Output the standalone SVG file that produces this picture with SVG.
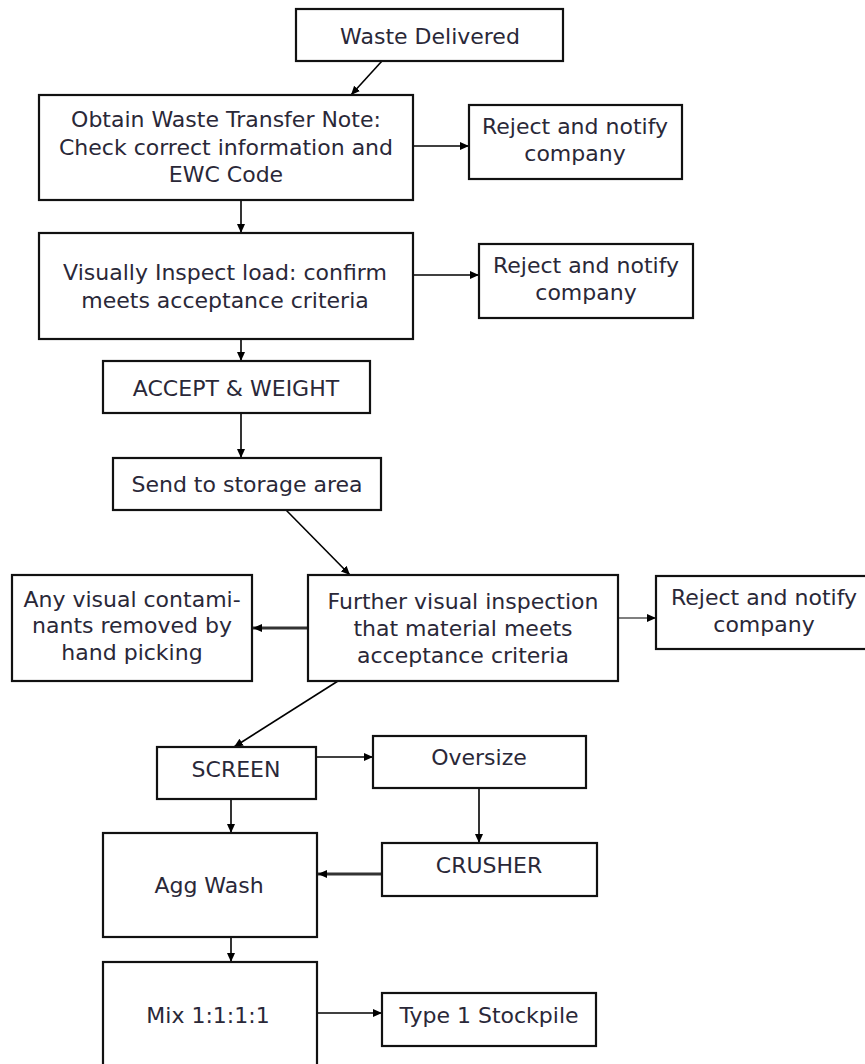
<svg xmlns="http://www.w3.org/2000/svg" width="865" height="1064" viewBox="0 0 865 1064">
<style>
.box{fill:#fff;stroke:#111;stroke-width:2.2}
.t{font-family:"DejaVu Sans",Verdana,sans-serif;font-size:22px;fill:#2a2838;text-anchor:middle}
.c{fill:none;stroke:#000;stroke-width:1.6}
.thick{stroke-width:3;stroke:#333}
.thin{stroke:#555;stroke-width:1.4}
</style>
<defs>
<marker id="ah" markerUnits="userSpaceOnUse" markerWidth="10" markerHeight="10" refX="9" refY="5" orient="auto">
<path d="M0,1 L9,5 L0,9 Z" fill="#000"/>
</marker>
</defs>
<rect width="865" height="1064" fill="#fff"/>
<g id="connectors">
<line class="c" x1="382" y1="61" x2="351" y2="95" marker-end="url(#ah)"/>
<line class="c" x1="413" y1="146" x2="469" y2="146" marker-end="url(#ah)"/>
<line class="c" x1="241" y1="200" x2="241" y2="233" marker-end="url(#ah)"/>
<line class="c" x1="413" y1="275" x2="479" y2="275" marker-end="url(#ah)"/>
<line class="c" x1="241" y1="328" x2="241" y2="361" marker-end="url(#ah)"/>
<line class="c" x1="241" y1="413" x2="241" y2="458" marker-end="url(#ah)"/>
<line class="c" x1="286" y1="510" x2="350" y2="575" marker-end="url(#ah)"/>
<line class="c thick" x1="308" y1="628" x2="253" y2="628" marker-end="url(#ah)"/>
<line class="c thin" x1="618" y1="618" x2="656" y2="618" marker-end="url(#ah)"/>
<line class="c" x1="338" y1="681" x2="234" y2="747" marker-end="url(#ah)"/>
<line class="c" x1="316" y1="757" x2="373" y2="757" marker-end="url(#ah)"/>
<line class="c" x1="479" y1="788" x2="479" y2="843" marker-end="url(#ah)"/>
<line class="c thick" x1="382" y1="874" x2="318" y2="874" marker-end="url(#ah)"/>
<line class="c" x1="231" y1="799" x2="231" y2="833" marker-end="url(#ah)"/>
<line class="c" x1="231" y1="937" x2="231" y2="962" marker-end="url(#ah)"/>
<line class="c" x1="317" y1="1013" x2="382" y2="1013" marker-end="url(#ah)"/>
</g>
<g id="waste"><rect class="box" x="296" y="9" width="267" height="52"/><text class="t" x="430" y="44">Waste Delivered</text></g>
<g id="obtain"><rect class="box" x="39" y="95" width="374" height="105"/><text class="t" x="226" y="127">Obtain Waste Transfer Note:</text><text class="t" x="226" y="155">Check correct information and</text><text class="t" x="226" y="182">EWC Code</text></g>
<g id="reject1"><rect class="box" x="469" y="105" width="213" height="74"/><text class="t" x="575" y="134">Reject and notify</text><text class="t" x="575" y="161">company</text></g>
<g id="visually"><rect class="box" x="39" y="233" width="374" height="106"/><text class="t" x="225" y="280">Visually Inspect load: confirm</text><text class="t" x="225" y="308">meets acceptance criteria</text></g>
<g id="reject2"><rect class="box" x="479" y="244" width="214" height="74"/><text class="t" x="586" y="273">Reject and notify</text><text class="t" x="586" y="300">company</text></g>
<g id="accept"><rect class="box" x="103" y="361" width="267" height="52"/><text class="t" x="236" y="396">ACCEPT &amp; WEIGHT</text></g>
<g id="send"><rect class="box" x="113" y="458" width="268" height="52"/><text class="t" x="247" y="492">Send to storage area</text></g>
<g id="further"><rect class="box" x="308" y="575" width="310" height="106"/><text class="t" x="463" y="609">Further visual inspection</text><text class="t" x="463" y="636">that material meets</text><text class="t" x="463" y="663">acceptance criteria</text></g>
<g id="anyvisual"><rect class="box" x="12" y="575" width="240" height="106"/><text class="t" x="132" y="607">Any visual contami-</text><text class="t" x="132" y="633">nants removed by</text><text class="t" x="132" y="660">hand picking</text></g>
<g id="reject3"><rect class="box" x="656" y="576" width="216" height="73"/><text class="t" x="764" y="605">Reject and notify</text><text class="t" x="764" y="632">company</text></g>
<g id="screen"><rect class="box" x="157" y="747" width="159" height="52"/><text class="t" x="236" y="777">SCREEN</text></g>
<g id="oversize"><rect class="box" x="373" y="736" width="213" height="52"/><text class="t" x="479" y="765">Oversize</text></g>
<g id="crusher"><rect class="box" x="382" y="843" width="215" height="53"/><text class="t" x="489" y="873">CRUSHER</text></g>
<g id="aggwash"><rect class="box" x="103" y="833" width="214" height="104"/><text class="t" x="209" y="893">Agg Wash</text></g>
<g id="mix"><rect class="box" x="103" y="962" width="214" height="110"/><text class="t" x="208" y="1023">Mix 1:1:1:1</text></g>
<g id="type1"><rect class="box" x="382" y="993" width="214" height="53"/><text class="t" x="489" y="1023">Type 1 Stockpile</text></g>
</svg>
